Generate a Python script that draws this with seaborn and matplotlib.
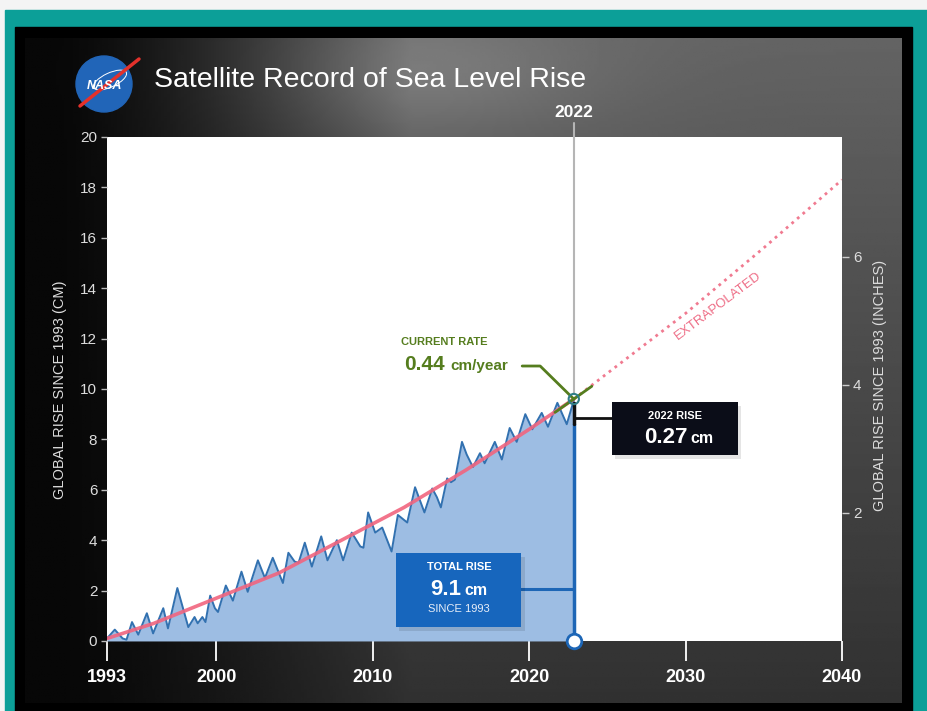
## Satellite record of global sea level rise (NASA style graphic)
## values, cm since 1993

import numpy as np
import seaborn as sns
import matplotlib.pyplot as plt
from matplotlib.patches import Rectangle, Circle, Ellipse

# satellite altimetry record (peaks and troughs)
sat_year = [1993.0, 1993.5, 1994.0, 1994.25, 1994.6, 1995.0, 1995.55, 1995.95, 1996.6, 1996.9,
            1997.5, 1998.2, 1998.6, 1998.8, 1999.1, 1999.3, 1999.6, 1999.9, 2000.1, 2000.6,
            2001.05, 2001.6, 2002.0, 2002.65, 2003.1, 2003.6, 2004.25, 2004.6, 2005.0, 2005.25,
            2005.65, 2006.1, 2006.7, 2007.1, 2007.7, 2008.1, 2008.65, 2009.2, 2009.4, 2009.7,
            2010.15, 2010.6, 2011.2, 2011.6, 2012.2, 2012.7, 2013.3, 2013.8, 2014.1, 2014.35,
            2014.75, 2015.0, 2015.25, 2015.7, 2016.0, 2016.4, 2016.85, 2017.15, 2017.8, 2018.25,
            2018.75, 2019.2, 2019.75, 2020.2, 2020.8, 2021.2, 2021.8, 2022.4, 2022.85]
sat_rise = [0.1, 0.45, 0.1, 0.05, 0.75, 0.25, 1.1, 0.3, 1.3, 0.5,
            2.1, 0.55, 0.95, 0.7, 0.95, 0.75, 1.8, 1.3, 1.15, 2.2,
            1.6, 2.75, 1.95, 3.2, 2.5, 3.3, 2.3, 3.5, 3.15, 3.1,
            3.9, 2.95, 4.15, 3.2, 4.0, 3.2, 4.3, 3.75, 3.7, 5.1,
            4.3, 4.5, 3.55, 5.0, 4.7, 6.1, 5.1, 6.05, 5.7, 5.3,
            6.45, 6.3, 6.4, 7.9, 7.4, 6.9, 7.45, 7.05, 7.9, 7.2,
            8.45, 7.9, 9.0, 8.4, 9.05, 8.5, 9.45, 8.6, 9.55]

# long term trend (red) and its extrapolation (dotted)
trend_year = [1993.0, 1996.0, 2000.0, 2004.0, 2008.0, 2012.0, 2016.0, 2020.0, 2022.85]
trend_rise = [0.1, 0.7, 1.7, 2.7, 4.0, 5.3, 6.8, 8.4, 9.6]
extrap_year = [2022.85, 2026.0, 2030.0, 2035.0, 2040.0]
extrap_rise = [9.6, 11.1, 13.0, 15.6, 18.3]

year_2022 = 2022.85
level_2022 = 9.6
rate_2022 = 0.44
total_rise = 9.1
rise_2022 = 0.27

x_ticks = [1993, 2000, 2010, 2020, 2030, 2040]
y_ticks_cm = list(range(0, 21, 2))
y_ticks_in = [2, 4, 6]

sns.set_style("white")
plt.rcParams['font.family'] = ['Liberation Sans', 'DejaVu Sans']

fig = plt.figure(figsize=(9.27, 7.11), dpi=100)
fig.patch.set_facecolor('#f4f4f4')

#
# background frame, texture, logo and title (pixel coords)
bg = fig.add_axes([0, 0, 1, 1], zorder=-10)
bg.add_patch(Rectangle((5, 10), 922, 701, color='#0c9f98', zorder=0))
bg.add_patch(Rectangle((15, 27), 897, 684, color='black', zorder=1))
gx, gy = np.meshgrid(np.linspace(0, 1, 300), np.linspace(0, 1, 220))
shade = 0.03 + 0.36 * np.clip((gx - 0.04) / 0.4, 0, 1) ** 1.3 * (1 - 0.55 * gy)
shade += 0.1 * np.exp(-((gx - 0.45) ** 2 / 0.04 + (gy - 0.05) ** 2 / 0.01))
bg.imshow(shade, extent=(25, 902, 703, 38), origin='upper', cmap='gray',
          vmin=0, vmax=1, aspect='auto', zorder=2)
bg.add_patch(Circle((104, 84), 28, color='#2165b8', zorder=3))
bg.add_patch(Ellipse((110, 80), 36, 14, angle=-25, fill=False, ec='white', lw=0.7, zorder=4))
bg.plot([80, 139], [106, 59], color='#e4312b', lw=2.5, solid_capstyle='round', zorder=4)
bg.text(104, 86, 'NASA', color='white', fontsize=9, fontweight='bold',
        ha='center', va='center', style='italic', zorder=5)
bg.text(154, 80, 'Satellite Record of Sea Level Rise', color='white', fontsize=20.5,
        ha='left', va='center', zorder=5)
bg.set_xlim(0, 927)
bg.set_ylim(711, 0)
bg.axis('off')

#
# main chart
ax = fig.add_axes([0.1154, 0.0985, 0.7929, 0.7089])
ax.set_facecolor('white')

ax.fill_between(sat_year, 0, sat_rise, color='#9dbde3', lw=0)
sns.lineplot(x=sat_year, y=sat_rise, ax=ax, color='#3271b0', lw=1.4)
sns.lineplot(x=trend_year, y=trend_rise, ax=ax, color='#f1657f', lw=2.6, alpha=0.9)
sns.lineplot(x=extrap_year, y=extrap_rise, ax=ax, color='#f07a90', lw=2, linestyle=':')

ax.text(2032.1, 13.3, 'EXTRAPOLATED', rotation=37, color='#ee6d86', fontsize=9.5,
        ha='center', va='center', rotation_mode='anchor')

# 2022 marker line
ax.plot([year_2022, year_2022], [level_2022 + 0.25, 20.55], color='#b5b5b5', lw=1.5, clip_on=False)
ax.text(year_2022, 20.95, '2022', color='white', fontsize=12.5, fontweight='bold',
        ha='center', va='center', clip_on=False)

# total rise (blue)
ax.plot([year_2022, year_2022], [0, 8.6], color='#1d66b6', lw=2.5, zorder=4)
ax.plot([2019.4, year_2022], [2.06, 2.06], color='#1d66b6', lw=2.2, zorder=4)
ax.add_patch(Rectangle((2011.7, 0.4), 8.0, 2.95, color='black', alpha=0.1, lw=0, zorder=4))
ax.add_patch(Rectangle((2011.5, 0.55), 8.0, 2.95, color='#1766bd', lw=0, zorder=5))
ax.text(2015.5, 2.94, 'TOTAL RISE', color='white', fontsize=8, fontweight='bold',
        ha='center', va='center', zorder=6)
ax.text(2015.64, 1.83, f'{total_rise}', color='white', fontsize=16, fontweight='bold',
        ha='right', va='baseline', zorder=6)
ax.text(2015.83, 1.83, 'cm', color='white', fontsize=11.5, fontweight='bold',
        ha='left', va='baseline', zorder=6)
ax.text(2015.5, 1.27, 'SINCE 1993', color='#e8eef8', fontsize=8,
        ha='center', va='center', zorder=6)

# 2022 rise (black)
ax.plot([year_2022, year_2022], [level_2022 - 0.15, 8.6], color='#111111', lw=2.5, zorder=5)
ax.plot([year_2022, 2025.3], [8.85, 8.85], color='#111111', lw=2, zorder=5)
ax.add_patch(Rectangle((2025.5, 7.23), 8.05, 2.1, color='black', alpha=0.1, lw=0, zorder=4))
ax.add_patch(Rectangle((2025.3, 7.38), 8.05, 2.1, color='#0b0d18', lw=0, zorder=5))
ax.text(2029.32, 8.93, '2022 RISE', color='white', fontsize=8, fontweight='bold',
        ha='center', va='center', zorder=6)
ax.text(2030.15, 7.86, f'{rise_2022}', color='white', fontsize=16, fontweight='bold',
        ha='right', va='baseline', zorder=6)
ax.text(2030.28, 7.86, 'cm', color='white', fontsize=11.5, fontweight='bold',
        ha='left', va='baseline', zorder=6)

# current rate (green)
green = '#557d1e'
ax.plot([year_2022 - 1.2, year_2022 + 1.15],
        [level_2022 - 1.2 * rate_2022, level_2022 + 1.15 * rate_2022], color=green, lw=2, zorder=6)
ax.plot([2019.55, 2020.7, year_2022], [10.91, 10.91, level_2022], color=green, lw=2, zorder=6)
ax.text(2014.55, 11.87, 'CURRENT RATE', color=green, fontsize=8, fontweight='bold',
        ha='center', va='center')
ax.text(2014.6, 10.75, f'{rate_2022}', color=green, fontsize=15, fontweight='bold',
        ha='right', va='baseline')
ax.text(2014.93, 10.75, 'cm/year', color=green, fontsize=11, fontweight='bold',
        ha='left', va='baseline')

sc = ax.scatter([year_2022], [level_2022], s=55, facecolors='none', edgecolors='#2f7d86',
                lw=1.5, zorder=7)
sc2 = ax.scatter([year_2022], [0], s=110, facecolors='white', edgecolors='#1d66b6',
                 lw=2, zorder=8)
sc2.set_clip_on(False)

ax.set_xlim(1993, 2040)
ax.set_ylim(0, 20)
ax.set_xticks(x_ticks)
ax.set_yticks(y_ticks_cm)
ax.set_xlabel('')
ax.set_ylabel('')
for s in ax.spines.values():
    s.set_visible(False)
ax.tick_params(axis='x', direction='out', length=14.5, width=1.3, color='white',
               labelcolor='white', labelsize=13, pad=6, bottom=True)
ax.tick_params(axis='y', direction='out', length=4, width=1, color='#bbbbbb',
               labelcolor='#dddddd', labelsize=11, pad=3, left=True)
for lbl in ax.get_xticklabels():
    lbl.set_fontweight('bold')

ax2 = ax.twinx()
ax2.set_ylim(0, 20 / 2.54)
ax2.set_yticks(y_ticks_in)
for s in ax2.spines.values():
    s.set_visible(False)
ax2.tick_params(axis='y', direction='out', length=5, width=1, color='#cccccc',
                labelcolor='#dddddd', labelsize=11, pad=3, right=True)
ax2.grid(False)

fig.text(60 / 927, 1 - 390 / 711, 'GLOBAL RISE SINCE 1993 (CM)', rotation=90,
         color='#dddddd', fontsize=10.5, ha='center', va='center')
fig.text(880 / 927, 1 - 385 / 711, 'GLOBAL RISE SINCE 1993 (INCHES)', rotation=90,
         color='#dddddd', fontsize=10.5, ha='center', va='center')

plt.savefig('out.png', dpi=100, facecolor=fig.get_facecolor())
